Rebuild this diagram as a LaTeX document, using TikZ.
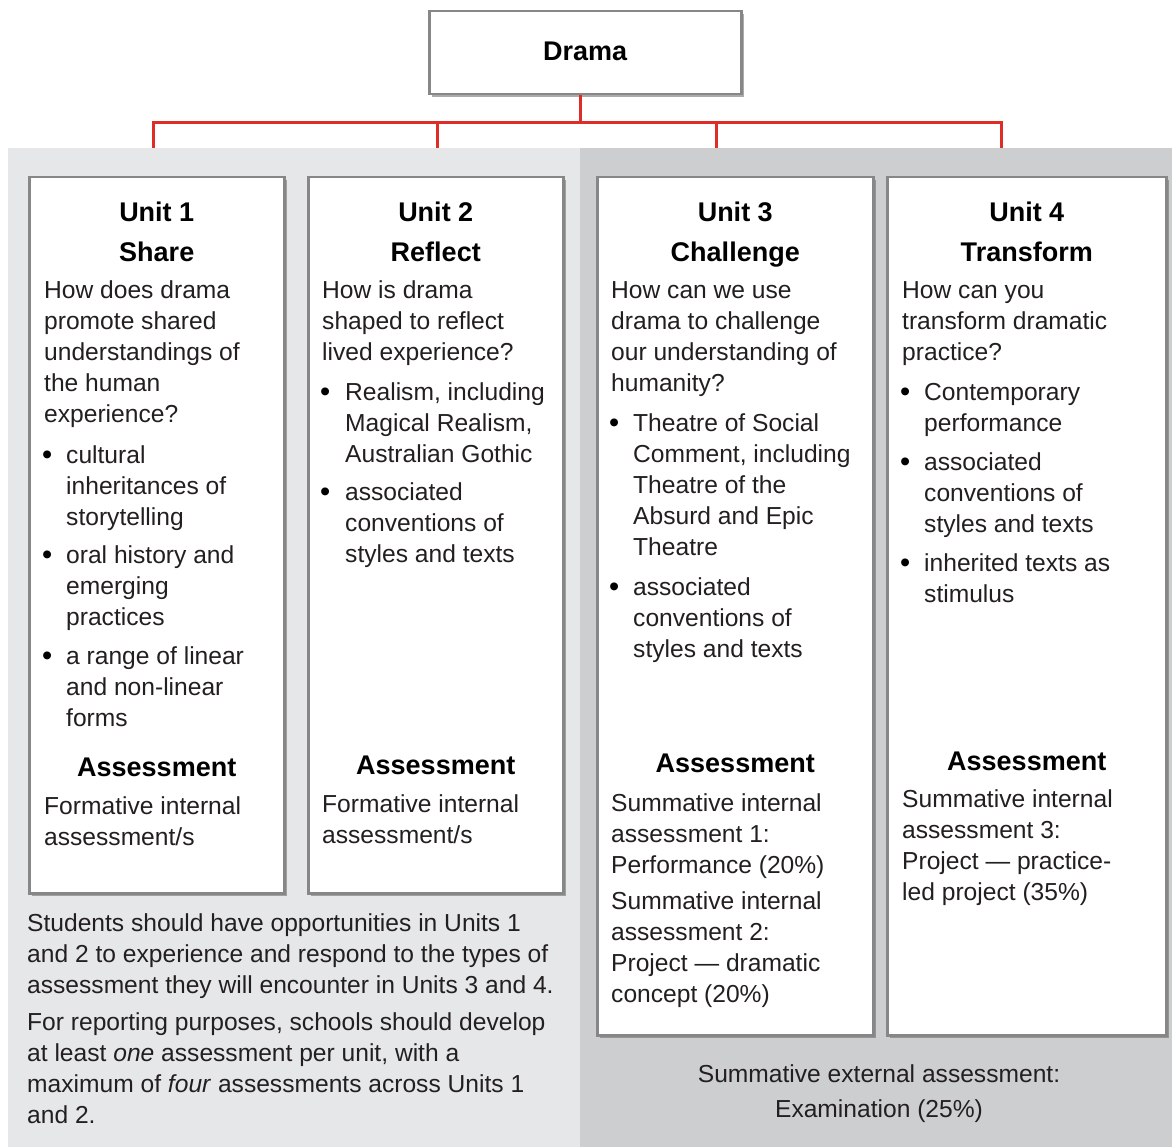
\documentclass[tikz,border=0pt]{standalone}
\usepackage{fontspec}
\setmainfont{Liberation Sans}
\usetikzlibrary{positioning,shadows}

\definecolor{inkgray}{RGB}{35,31,32}
\definecolor{linkred}{RGB}{222,45,38}
\definecolor{paleband}{RGB}{230,231,232}
\definecolor{darkband}{RGB}{205,206,208}
\definecolor{boxline}{RGB}{135,135,135}

% lines stacked from the first baseline down
\newcommand{\lnsl}[1]{\begin{tabular}[t]{@{}l@{}}#1\end{tabular}}
\newcommand{\lnsc}[1]{\begin{tabular}[t]{@{}c@{}}#1\end{tabular}}

\tikzset{
  unitbox/.style={draw=boxline, line width=2.5pt, fill=white, inner sep=0pt, anchor=north west,
    drop shadow={shadow xshift=2.5pt, shadow yshift=-3pt, opacity=0.55, fill=black!60}},
  body/.style={anchor=base west, inner sep=0pt, text=inkgray, font=\fontsize{24.6}{31}\selectfont},
  head/.style={anchor=base, inner sep=0pt, text=black, font=\fontsize{27}{40}\selectfont\bfseries},
  link/.style={linkred, line width=3pt},
  dot/.style={body, text=black, font=\fontsize{29}{31}\selectfont}
}

\begin{document}
\begin{tikzpicture}[x=1pt, y=-1pt]
    \useasboundingbox (0,0) rectangle (1172,1147);

    % bands behind the units
    \fill[paleband] (8,148) rectangle (580,1147);
    \fill[darkband] (580,148) rectangle (1172,1147);

    % Top
    \node[unitbox, minimum width=312, minimum height=83] (drama) at (428,10) {};
    \node[head] (dramat) at (drama.center |- 0,61) {Drama};

    % Unit boxes
    \node[unitbox, minimum width=255, minimum height=716] (u1) at (28,176) {};
    \node[unitbox, minimum width=255, minimum height=716] (u2) at (307,176) {};
    \node[unitbox, minimum width=276, minimum height=858] (u3) at (596,176) {};
    \node[unitbox, minimum width=279, minimum height=858] (u4) at (886,176) {};

    % red connectors
    \coordinate (fork) at (580,123);
    \coordinate (t1) at (153,148);
    \coordinate (t2) at (437,148);
    \coordinate (t3) at (716,148);
    \coordinate (t4) at (1001,148);
    \draw[link] (drama.south -| fork) -- (fork);
    \foreach \t in {t1,t2,t3,t4} \draw[link] (fork) -| (\t);

    % Unit 1
    \node[head] (u1h) at (u1.north |- 0,222) {\lnsc{Unit 1\\Share}};
    \node[body] (u1q) at (44,299) {\lnsl{How does drama\\promote shared\\understandings of\\the human\\experience?}};
    \node[body] (u1b1) at (66,463) {\lnsl{cultural\\inheritances of\\storytelling}};
    \node[body] (u1b2) at (66,563) {\lnsl{oral history and\\emerging\\practices}};
    \node[body] (u1b3) at (66,664) {\lnsl{a range of linear\\and non-linear\\forms}};
    \node[head] (u1a) at (u1.north |- 0,776) {Assessment};
    \node[body] (u1at) at (44,814) {\lnsl{Formative internal\\assessment/s}};

    % Unit 2
    \node[head] (u2h) at (u2.north |- 0,222) {\lnsc{Unit 2\\Reflect}};
    \node[body] (u2q) at (322,299) {\lnsl{How is drama\\shaped to reflect\\lived experience?}};
    \node[body] (u2b1) at (345,400) {\lnsl{Realism, including\\Magical Realism,\\Australian Gothic}};
    \node[body] (u2b2) at (345,500) {\lnsl{associated\\conventions of\\styles and texts}};
    \node[head] (u2a) at (u2.north |- 0,774) {Assessment};
    \node[body] (u2at) at (322,812) {\lnsl{Formative internal\\assessment/s}};

    % Unit 3
    \node[head] (u3h) at (u3.north |- 0,222) {\lnsc{Unit 3\\Challenge}};
    \node[body] (u3q) at (611,299) {\lnsl{How can we use\\drama to challenge\\our understanding of\\humanity?}};
    \node[body] (u3b1) at (633,431) {\lnsl{Theatre of Social\\Comment, including\\Theatre of the\\Absurd and Epic\\Theatre}};
    \node[body] (u3b2) at (633,595) {\lnsl{associated\\conventions of\\styles and texts}};
    \node[head] (u3a) at (u3.north |- 0,772) {Assessment};
    \node[body] (u3at) at (611,811) {\lnsl{Summative internal\\assessment 1:\\Performance (20\%)}};
    \node[body] (u3bt) at (611,909) {\lnsl{Summative internal\\assessment 2:\\Project — dramatic\\concept (20\%)}};

    % Unit 4
    \node[head] (u4h) at (u4.north |- 0,222) {\lnsc{Unit 4\\Transform}};
    \node[body] (u4q) at (902,299) {\lnsl{How can you\\transform dramatic\\practice?}};
    \node[body] (u4b1) at (924,400) {\lnsl{Contemporary\\performance}};
    \node[body] (u4b2) at (924,470) {\lnsl{associated\\conventions of\\styles and texts}};
    \node[body] (u4b3) at (924,571) {\lnsl{inherited texts as\\stimulus}};
    \node[head] (u4a) at (u4.north |- 0,770) {Assessment};
    \node[body] (u4at) at (902,807) {\lnsl{Summative internal\\assessment 3:\\Project — practice-\\led project (35\%)}};

    % bullets
    \foreach \x/\y [count=\i] in {42/464, 42/564, 42/665, 320/401, 320/501, 609/432, 609/596, 900/401, 900/471, 900/572}
        \node[dot] (dot\i) at (\x,\y) {\textbullet};

    % notes under the boxes
    \node[body] (noteA) at (27,931) {\lnsl{Students should have opportunities in Units 1\\and 2 to experience and respond to the types of\\assessment they will encounter in Units 3 and 4.}};
    \node[body] (noteB) at (27,1030) {\lnsl{For reporting purposes, schools should develop\\at least \textit{one} assessment per unit, with a\\maximum of \textit{four} assessments across Units 1\\and 2.}};
    \node[body, anchor=base, font=\fontsize{24.6}{35}\selectfont] (extern) at (879,1082) {\lnsc{Summative external assessment:\\Examination (25\%)}};
\end{tikzpicture}
\end{document}
